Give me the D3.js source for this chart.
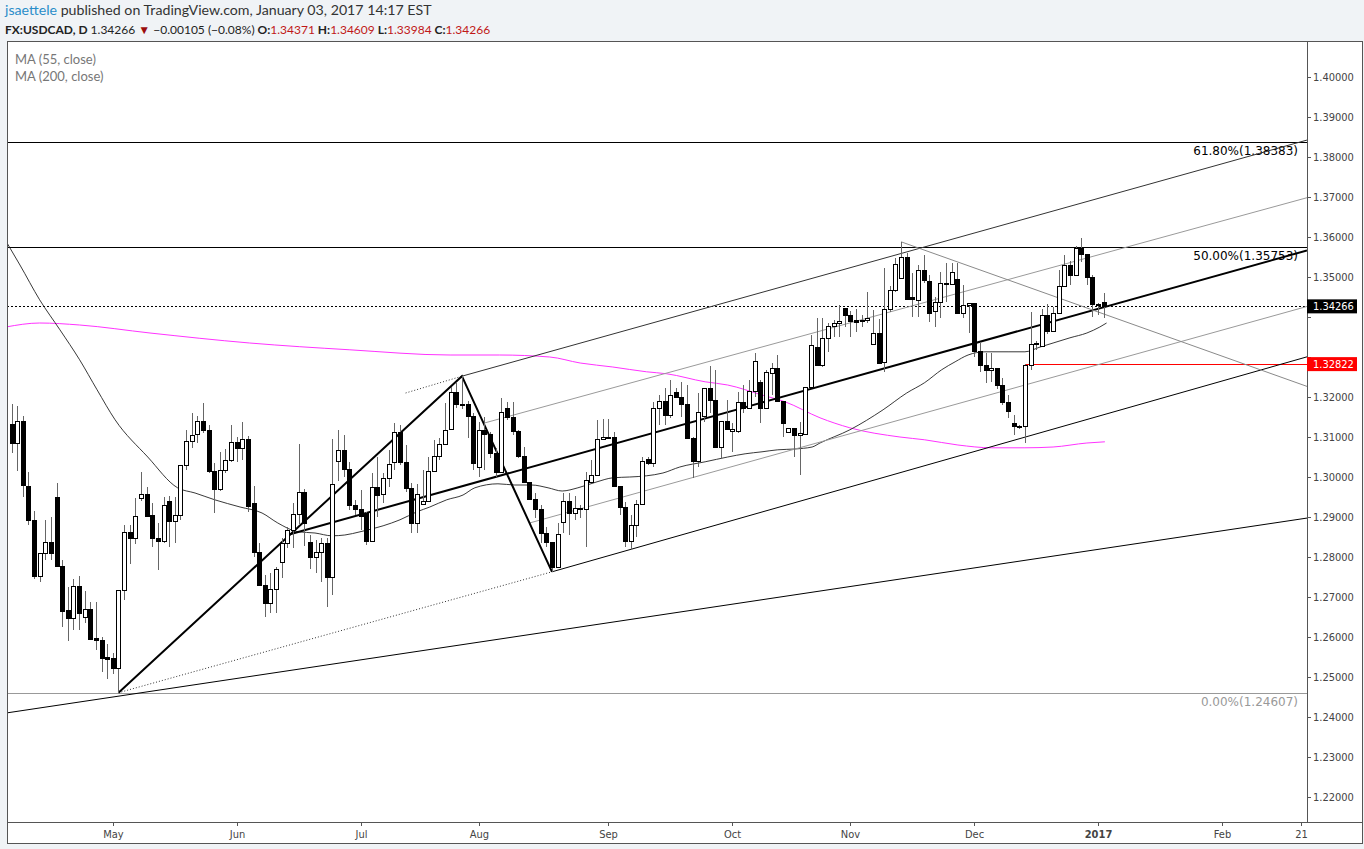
<!DOCTYPE html>
<html>
<head>
<meta charset="utf-8">
<style>
  body { margin: 0; background: #f0f3f6; }
  svg { display: block; }
  text { font-family: "Lato", "Open Sans", sans-serif; }
  .axis text { font-family: "Liberation Sans Narrow", "DejaVu Sans Condensed", "Liberation Sans", sans-serif; }
  text.fib { font-family: "DejaVu Sans", sans-serif; }
</style>
</head>
<body>
<svg id="chart" width="1364" height="849"></svg>
<script src="https://d3js.org/d3.v7.min.js"></script>
<script>
// daily USDCAD candles, first bar 2016-04-06, one bar per weekday
const firstDate = "2016-04-06";
const opens = [1.3132,1.3084,1.3139,1.2976,1.2891,1.2751,1.2809,1.2837,1.2950,1.2777,
  1.2666,1.2646,1.2727,1.2650,1.2670,1.2596,1.2592,1.2548,1.2546,1.2522,
  1.2717,1.2862,1.2847,1.2946,1.2956,1.2905,1.2847,1.2838,1.2940,1.2888,
  1.2905,1.3030,1.3090,1.3107,1.3140,1.3117,1.3015,1.2970,1.3016,1.3041,
  1.3086,1.3072,1.3093,1.2934,1.2812,1.2729,1.2684,1.2718,1.2787,1.2833,
  1.2866,1.2907,1.2962,1.2837,1.2798,1.2812,1.2834,1.2749,1.3038,1.3067,
  1.3019,1.2929,1.2919,1.2909,1.2838,1.2974,1.2957,1.2997,1.3037,1.3112,
  1.3037,1.2972,1.2884,1.2932,1.2938,1.3015,1.3052,1.3082,1.3119,1.3212,
  1.3182,1.3182,1.3151,1.3024,1.3117,1.3107,1.3059,1.3012,1.3172,1.3149,
  1.3115,1.3052,1.2986,1.2943,1.2918,1.2858,1.2837,1.2774,1.2887,1.2938,
  1.2908,1.2922,1.2918,1.2987,1.3005,1.3094,1.3099,1.3099,1.2977,1.2923,
  1.2838,1.2880,1.2932,1.3045,1.3034,1.3171,1.3188,1.3155,1.3212,1.3198,
  1.3182,1.3097,1.3038,1.3151,1.3222,1.3192,1.3074,1.3140,1.3115,1.3115,
  1.3187,1.3172,1.3213,1.3236,1.3172,1.3259,1.3272,1.3188,1.3112,1.3122,
  1.3104,1.3107,1.3224,1.3323,1.3280,1.3347,1.3376,1.3384,1.3422,1.3405,
  1.3391,1.3392,1.3392,1.3332,1.3359,1.3286,1.3419,1.3467,1.3497,1.3549,
  1.3448,1.3442,1.3517,1.3490,1.3413,1.3437,1.3484,1.3482,1.3494,1.3409,
  1.3428,1.3434,1.3315,1.3280,1.3266,1.3272,1.3228,1.3186,1.3134,1.3126,
  1.3126,1.3280,1.3332,1.3326,1.3405,1.3363,1.3409,1.3477,1.3530,1.3503,
  1.3572,1.3557,1.3499,1.3432,1.34371];
const highs = [1.3182,1.3178,1.3152,1.3013,1.2915,1.2809,1.2893,1.2899,1.2984,1.2792,
  1.2726,1.2744,1.2752,1.2714,1.2688,1.2688,1.2599,1.2582,1.2559,1.2717,
  1.2880,1.2880,1.2948,1.3013,1.2976,1.2936,1.2884,1.2951,1.2952,1.2949,
  1.3030,1.3117,1.3160,1.3153,1.3184,1.3130,1.3034,1.3063,1.3070,1.3130,
  1.3100,1.3138,1.3103,1.2978,1.2834,1.2755,1.2761,1.2776,1.2847,1.2876,
  1.2936,1.3083,1.2970,1.2855,1.2843,1.2848,1.2848,1.3094,1.3118,1.3105,
  1.3038,1.2942,1.2968,1.2913,1.3011,1.3051,1.3011,1.3068,1.3136,1.3130,
  1.3080,1.2984,1.2983,1.3018,1.3051,1.3092,1.3097,1.3184,1.3226,1.3234,
  1.3252,1.3190,1.3160,1.3138,1.3151,1.3113,1.3072,1.3197,1.3188,1.3188,
  1.3117,1.3074,1.2988,1.2959,1.2930,1.2876,1.2837,1.2884,1.2959,1.2961,
  1.2953,1.2930,1.3013,1.3043,1.3142,1.3144,1.3144,1.3113,1.2977,1.2938,
  1.2905,1.2942,1.3051,1.3050,1.3188,1.3205,1.3222,1.3243,1.3222,1.3238,
  1.3230,1.3100,1.3209,1.3222,1.3277,1.3268,1.3140,1.3193,1.3134,1.3213,
  1.3230,1.3243,1.3311,1.3243,1.3268,1.3286,1.3305,1.3188,1.3122,1.3122,
  1.3138,1.3224,1.3355,1.3397,1.3397,1.3384,1.3393,1.3430,1.3423,1.3416,
  1.3420,1.3405,1.3463,1.3417,1.3395,1.3522,1.3477,1.3547,1.3588,1.3560,
  1.3509,1.3530,1.3555,1.3505,1.3451,1.3513,1.3534,1.3534,1.3534,1.3480,
  1.3434,1.3436,1.3338,1.3309,1.3309,1.3272,1.3247,1.3205,1.3155,1.3130,
  1.3282,1.3413,1.3340,1.3420,1.3432,1.3426,1.3518,1.3555,1.3541,1.3578,
  1.3597,1.3557,1.3505,1.3436,1.34609];
const lows = [1.3059,1.3016,1.2949,1.2880,1.2746,1.2738,1.2793,1.2793,1.2776,1.2626,
  1.2589,1.2617,1.2617,1.2634,1.2593,1.2567,1.2513,1.2494,1.2508,1.2461,
  1.2692,1.2782,1.2832,1.2940,1.2900,1.2826,1.2767,1.2835,1.2826,1.2834,
  1.2892,1.3017,1.3073,1.3084,1.3109,1.3010,1.2909,1.2965,1.3010,1.3037,
  1.3038,1.3042,1.2913,1.2801,1.2729,1.2651,1.2661,1.2659,1.2747,1.2822,
  1.2822,1.2883,1.2828,1.2769,1.2759,1.2738,1.2674,1.2705,1.2990,1.3001,
  1.2918,1.2905,1.2868,1.2830,1.2838,1.2901,1.2934,1.2976,1.3018,1.3030,
  1.2963,1.2859,1.2859,1.2930,1.2938,1.3013,1.3042,1.3080,1.3118,1.3172,
  1.3170,1.3097,1.3018,1.3001,1.3018,1.3047,1.3001,1.3009,1.3143,1.3105,
  1.3047,1.2984,1.2943,1.2897,1.2834,1.2826,1.2763,1.2774,1.2861,1.2855,
  1.2893,1.2897,1.2826,1.2985,1.3005,1.3094,1.3095,1.2976,1.2905,1.2826,
  1.2818,1.2851,1.2932,1.3030,1.3026,1.3130,1.3130,1.3147,1.3197,1.3151,
  1.3097,1.2997,1.3026,1.3137,1.3161,1.3072,1.3047,1.3118,1.3062,1.3111,
  1.3160,1.3172,1.3201,1.3136,1.3172,1.3205,1.3188,1.3099,1.3112,1.3051,
  1.3005,1.3105,1.3224,1.3280,1.3276,1.3313,1.3351,1.3351,1.3376,1.3351,
  1.3363,1.3376,1.3384,1.3332,1.3284,1.3263,1.3413,1.3463,1.3497,1.3444,
  1.3401,1.3401,1.3484,1.3388,1.3376,1.3397,1.3438,1.3480,1.3409,1.3397,
  1.3359,1.3301,1.3263,1.3234,1.3238,1.3219,1.3180,1.3147,1.3105,1.3120,
  1.3084,1.3268,1.3318,1.3326,1.3357,1.3363,1.3409,1.3477,1.3480,1.3503,
  1.3538,1.3480,1.3399,1.3405,1.33984];
const closes = [1.3084,1.3139,1.2978,1.2891,1.2751,1.2809,1.2837,1.2809,1.2777,1.2664,
  1.2646,1.2727,1.2658,1.2670,1.2594,1.2592,1.2547,1.2544,1.2522,1.2717,
  1.2862,1.2847,1.2902,1.2956,1.2902,1.2847,1.2838,1.2930,1.2888,1.2905,
  1.3030,1.3090,1.3103,1.3140,1.3117,1.3013,1.2970,1.3016,1.3041,1.3086,
  1.3072,1.3093,1.2926,1.2812,1.2729,1.2684,1.2718,1.2768,1.2833,1.2866,
  1.2907,1.2962,1.2884,1.2798,1.2812,1.2834,1.2749,1.2982,1.3067,1.3019,
  1.2928,1.2919,1.2901,1.2838,1.2974,1.2955,1.2997,1.3032,1.3112,1.3037,
  1.2972,1.2884,1.2957,1.2938,1.3015,1.3052,1.3082,1.3117,1.3212,1.3182,
  1.3181,1.3151,1.3034,1.3117,1.3107,1.3059,1.3012,1.3162,1.3149,1.3113,
  1.3051,1.2986,1.2943,1.2918,1.2858,1.2836,1.2774,1.2857,1.2938,1.2908,
  1.2922,1.2918,1.2991,1.3005,1.3094,1.3099,1.3098,1.2976,1.2923,1.2838,
  1.2880,1.2932,1.3038,1.3034,1.3171,1.3188,1.3155,1.3205,1.3198,1.3182,
  1.3097,1.3038,1.3161,1.3222,1.3192,1.3074,1.3140,1.3118,1.3118,1.3187,
  1.3172,1.3213,1.3290,1.3172,1.3261,1.3272,1.3188,1.3134,1.3122,1.3104,
  1.3110,1.3224,1.3330,1.3280,1.3347,1.3376,1.3384,1.3390,1.3403,1.3388,
  1.3387,1.3388,1.3397,1.3359,1.3284,1.3419,1.3467,1.3532,1.3549,1.3444,
  1.3444,1.3517,1.3492,1.3409,1.3437,1.3484,1.3482,1.3512,1.3409,1.3428,
  1.3434,1.3313,1.3280,1.3266,1.3272,1.3228,1.3186,1.3163,1.3126,1.3125,
  1.3280,1.3332,1.3333,1.3405,1.3363,1.3409,1.3477,1.3530,1.3503,1.3572,
  1.3557,1.3499,1.3432,1.3430,1.34266];

// moving averages: [trading day from 2016-05-02, value]
const ma55 = [[-19,1.3590],[-16.5,1.3530],[-13,1.3443],[-9.4,1.3368],[-5.9,1.3293],[-2.8,1.3218],
  [0.4,1.3143],[6.2,1.3050],[11.5,1.2973],[14.6,1.2960],[18.1,1.2943],[22.6,1.2925],[26.5,1.2910],
  [29.3,1.2885],[32.9,1.2863],[35.9,1.2860],[38.9,1.2853],[41.2,1.2855],[43.9,1.2863],[48,1.2878],
  [51,1.2893],[54,1.2913],[56.3,1.2925],[59.3,1.2943],[62.2,1.2955],[64.3,1.2973],[68.4,1.2983],
  [71.4,1.2980],[74.4,1.2980],[77.3,1.2973],[79.8,1.2965],[82.6,1.2973],[86,1.2988],[88.8,1.2998],
  [91.8,1.3000],[94.8,1.3003],[97.7,1.3010],[100.7,1.3025],[105.2,1.3038],[109.2,1.3050],
  [112.3,1.3058],[115.3,1.3063],[118.1,1.3068],[121.1,1.3070],[124.2,1.3075],[125.6,1.3085],
  [130.9,1.3118],[136.8,1.3168],[141,1.3210],[144.2,1.3236],[147.2,1.3268],[149.6,1.3288],
  [151.9,1.3305],[154.9,1.3313],[159,1.3313],[162,1.3313],[164.7,1.3325],[167,1.3335],
  [170,1.3348],[173,1.3360],[175.3,1.3375],[176.5,1.3385]];
const ma200 = [[-19,1.3375],[-13,1.3385],[-5.9,1.3380],[6.6,1.3360],[24.3,1.3335],[42.1,1.3318],
  [59.9,1.3305],[68.7,1.3305],[77.6,1.3300],[83,1.3285],[88.8,1.3275],[94.8,1.3263],[98.4,1.3258],
  [105.2,1.3238],[109.2,1.3230],[115.3,1.3205],[119.4,1.3188],[125.6,1.3148],[130.9,1.3123],
  [139.8,1.3100],[144.2,1.3093],[150.1,1.3080],[156.1,1.3073],[162,1.3073],[167,1.3075],
  [173,1.3085],[176.2,1.3088]];

// drawings
const zigzag = [["2016-05-03",1.24607],["2016-07-27",1.3252],["2016-08-18",1.2763]];
const trendLines = [
  {from:["2016-07-27",1.3252], to:["2017-02-21",1.3838], color:"#333", width:1},
  {from:["2016-08-18",1.2763], to:["2017-02-21",1.3296], color:"#000", width:1},
  {from:["2016-06-14",1.2855], to:["2017-02-21",1.3562], color:"#000", width:2},
  {from:["2016-08-02",1.3135], to:["2017-02-21",1.3694], color:"#9a9a9a", width:1},
  {from:["2016-08-12",1.2885], to:["2017-02-21",1.3422], color:"#9a9a9a", width:1},
  {from:["2016-11-14",1.3588], to:["2017-02-21",1.3232], color:"#8a8a8a", width:1},
  {from:["2016-04-06",1.2412], to:["2017-02-21",1.2895], color:"#000", width:1, back:true}
];
const dottedLines = [
  [["2016-05-03",1.24607],["2016-08-18",1.2763]],
  [["2016-07-13",1.3210],["2016-07-27",1.3252]]
];
const fibLevels = [1.38383, 1.35753, 1.24607];
const fibLabels = ["61.80%(1.38383)", "50.00%(1.35753)", "0.00%(1.24607)"];
const fibColors = ["#000", "#000", "#999"];
const lastClose = 1.34266;
const redLevel = 1.32822, redFrom = "2016-12-14";

const priceTicks = d3.range(122, 141).map(v => v / 100);
const monthTickDates = ["2016-05-02","2016-06-01","2016-07-01","2016-08-01","2016-09-01","2016-10-03",
  "2016-11-01","2016-12-01","2017-01-02","2017-02-01","2017-02-21"];
const monthTickLabels = ["May","Jun","Jul","Aug","Sep","Oct","Nov","Dec","2017","Feb","21"];

// trading-day index (weekdays) counted from 2016-05-02
const origin = Date.UTC(2016, 4, 2);
function dayIndex(s) {
  const target = Date.parse(s + "T00:00:00Z");
  const step = target >= origin ? 1 : -1;
  let cur = new Date(origin), n = 0;
  while (cur.getTime() !== target) {
    cur.setUTCDate(cur.getUTCDate() + step);
    const w = cur.getUTCDay();
    if (w !== 0 && w !== 6) n += step;
  }
  return n;
}

const W = 1364, H = 849;
const pLeft = 7, pRight = 1307, pTop = 41, pBottom = 822;
const x = d3.scaleLinear().domain([-18.8, 212.1]).range([pLeft, pRight]);
const y = d3.scaleLinear().domain([1.22, 1.40]).range([797, 77]);

const svg = d3.select("#chart");

// frame
svg.append("rect").attr("x", pLeft + 0.5).attr("y", pTop + 0.5).attr("width", W - pLeft - 2).attr("height", 843 - pTop)
  .attr("fill", "#fff").attr("stroke", "#555");
svg.append("line").attr("x1", pRight + 0.5).attr("x2", pRight + 0.5).attr("y1", pTop).attr("y2", pBottom)
  .attr("stroke", "#555");
svg.append("line").attr("x1", pLeft).attr("x2", W - 1).attr("y1", pBottom + 0.5).attr("y2", pBottom + 0.5)
  .attr("stroke", "#555");

svg.append("clipPath").attr("id", "plot").append("rect")
  .attr("x", pLeft + 1).attr("y", pTop + 1).attr("width", pRight - pLeft - 1).attr("height", pBottom - pTop - 1);
const plot = svg.append("g").attr("clip-path", "url(#plot)");

// header
const h1 = svg.append("text").attr("x", 5).attr("y", 15).attr("font-size", 14.2).attr("fill", "#333");
h1.append("tspan").attr("fill", "#2a8dc9").text("jsaettele");
h1.append("tspan").text(" published on TradingView.com, January 03, 2017 14:17 EST");
const h2 = svg.append("text").attr("x", 5).attr("y", 34).attr("font-size", 12).attr("fill", "#222");
h2.append("tspan").attr("font-weight", "bold").text("FX:USDCAD, D");
h2.append("tspan").text(" 1.34266 ");
h2.append("tspan").attr("fill", "#9b0d0d").text("\u25BC");
h2.append("tspan").text(" \u22120.00105 (\u22120.08%)");
[["O:", "1.34371"], ["H:", "1.34609"], ["L:", "1.33984"], ["C:", "1.34266"]].forEach(([k, v]) => {
  h2.append("tspan").attr("font-weight", "bold").text(" " + k);
  h2.append("tspan").attr("fill", "#c01818").text(v);
});

// legend
svg.append("text").attr("x", 15).attr("y", 64).attr("font-size", 13).attr("fill", "#777").text("MA (55, close)");
svg.append("text").attr("x", 15).attr("y", 81).attr("font-size", 13).attr("fill", "#777").text("MA (200, close)");

// fib levels
fibLevels.forEach((lv, i) => {
  plot.append("line").attr("x1", pLeft).attr("x2", pRight).attr("y1", Math.round(y(lv)) + 0.5).attr("y2", Math.round(y(lv)) + 0.5)
    .attr("stroke", i === 2 ? "#999" : "#000").attr("stroke-width", 1);
  plot.append("text").attr("class", "fib").attr("x", 1298).attr("y", y(lv) + 13).attr("text-anchor", "end")
    .attr("font-size", 12).attr("fill", fibColors[i]).text(fibLabels[i]);
});

// last close dotted line and red level
plot.append("line").attr("x1", pLeft).attr("x2", pRight).attr("y1", Math.round(y(lastClose)) + 0.5).attr("y2", Math.round(y(lastClose)) + 0.5)
  .attr("stroke", "#000").attr("stroke-dasharray", "2,2");
plot.append("line").attr("x1", x(dayIndex(redFrom))).attr("x2", pRight)
  .attr("y1", Math.round(y(redLevel)) + 0.5).attr("y2", Math.round(y(redLevel)) + 0.5).attr("stroke", "#ff0000");

// MAs
const maLine = d3.line().x(d => x(d[0])).y(d => y(d[1])).curve(d3.curveMonotoneX);
plot.append("path").datum(ma200).attr("d", maLine).attr("fill", "none").attr("stroke", "#ff33ff").attr("stroke-width", 1);
plot.append("path").datum(ma55).attr("d", maLine).attr("fill", "none").attr("stroke", "#222").attr("stroke-width", 0.9);

// trend lines, extended to the right edge
const xMax = x.domain()[1], xMin = x.domain()[0];
trendLines.forEach(t => {
  const a = dayIndex(t.from[0]), b = dayIndex(t.to[0]);
  const slope = (t.to[1] - t.from[1]) / (b - a);
  const s = t.back ? xMin : a;
  plot.append("line")
    .attr("x1", x(s)).attr("y1", y(t.from[1] + slope * (s - a)))
    .attr("x2", x(xMax)).attr("y2", y(t.from[1] + slope * (xMax - a)))
    .attr("stroke", t.color).attr("stroke-width", t.width);
});
dottedLines.forEach(d => {
  plot.append("line").attr("x1", x(dayIndex(d[0][0]))).attr("y1", y(d[0][1]))
    .attr("x2", x(dayIndex(d[1][0]))).attr("y2", y(d[1][1]))
    .attr("stroke", "#333").attr("stroke-dasharray", "1,2");
});
plot.append("path").datum(zigzag)
  .attr("d", d3.line().x(d => x(dayIndex(d[0]))).y(d => y(d[1])))
  .attr("fill", "none").attr("stroke", "#000").attr("stroke-width", 2);

// candles
const start = dayIndex(firstDate);
const candles = opens.map((o, i) => ({ i: start + i, o, h: highs[i], l: lows[i], c: closes[i] }));
const cg = plot.append("g").attr("shape-rendering", "crispEdges");
cg.selectAll("line.wick").data(candles).enter().append("line")
  .attr("x1", d => Math.round(x(d.i)) + 0.5).attr("x2", d => Math.round(x(d.i)) + 0.5)
  .attr("y1", d => y(d.h)).attr("y2", d => y(d.l))
  .attr("stroke", "#666");
cg.selectAll("rect.body").data(candles).enter().append("rect")
  .attr("x", d => Math.round(x(d.i)) - 1.5)
  .attr("y", d => y(Math.max(d.o, d.c)))
  .attr("width", 4)
  .attr("height", d => Math.max(1, Math.abs(y(d.o) - y(d.c))))
  .attr("fill", d => d.c >= d.o ? "#fff" : "#000")
  .attr("stroke", "#000");

// price axis (labels hidden where a price box sits on them)
const boxes = [[lastClose, "#000"], [redLevel, "#ff0000"]];
const pa = svg.append("g").attr("class", "axis");
priceTicks.forEach(p => {
  pa.append("line").attr("x1", pRight).attr("x2", pRight + 4).attr("y1", Math.round(y(p)) + 0.5).attr("y2", Math.round(y(p)) + 0.5).attr("stroke", "#555");
  if (boxes.some(b => Math.abs(y(b[0]) - y(p)) < 11)) return;
  pa.append("text").attr("x", 1313).attr("y", y(p) + 4).attr("font-size", 11).attr("fill", "#444").text(p.toFixed(5));
});
boxes.forEach(([p, col]) => {
  pa.append("rect").attr("x", pRight).attr("y", y(p) - 7).attr("width", 50).attr("height", 14).attr("fill", col);
  pa.append("text").attr("x", 1313).attr("y", y(p) + 4).attr("font-size", 11).attr("fill", "#fff").text(p.toFixed(5));
});

// time axis
const ta = svg.append("g").attr("class", "axis");
monthTickDates.forEach((d, i) => {
  const px = Math.round(x(dayIndex(d))) + 0.5;
  ta.append("line").attr("x1", px).attr("x2", px).attr("y1", pBottom).attr("y2", pBottom + 4).attr("stroke", "#555");
  ta.append("text").attr("x", px).attr("y", pBottom + 16).attr("text-anchor", "middle")
    .attr("font-size", 11).attr("fill", "#444")
    .attr("font-weight", monthTickLabels[i] === "2017" ? "bold" : "normal")
    .text(monthTickLabels[i]);
});
</script>
</body>
</html>
